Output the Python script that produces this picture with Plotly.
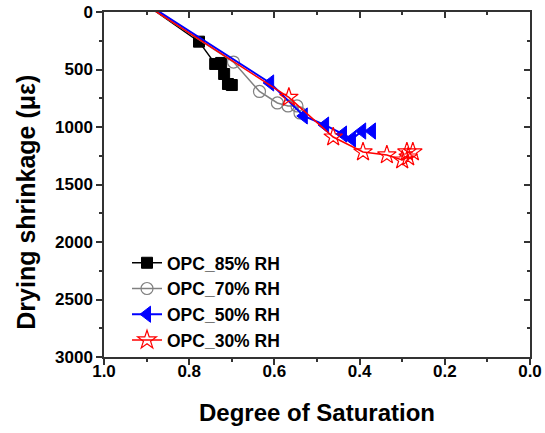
import plotly.graph_objects as go

# Degree of saturation (x) and drying shrinkage in microstrain (y)
sat_85 = [1.00, 0.777, 0.739, 0.725, 0.718, 0.709, 0.700]
shr_85 = [-320, 258, 452, 443, 539, 626, 635]

sat_70 = [1.00, 0.696, 0.635, 0.593, 0.568, 0.547, 0.540]
shr_70 = [-300, 435, 691, 791, 817, 817, 878]

sat_50 = [1.00, 0.610, 0.531, 0.481, 0.439, 0.418, 0.394, 0.371]
shr_50 = [-310, 617, 904, 983, 1061, 1104, 1035, 1035]

sat_30 = [1.00, 0.566, 0.462, 0.392, 0.336, 0.300, 0.286, 0.289, 0.275]
shr_30 = [-296, 742, 1087, 1217, 1243, 1287, 1261, 1217, 1217]

names = ["OPC_85% RH", "OPC_70% RH", "OPC_50% RH", "OPC_30% RH"]

FONT = "Liberation Sans, Arial, sans-serif"

fig = go.Figure()

fig.add_trace(go.Scatter(
    x=sat_85, y=shr_85, mode="lines+markers", name=names[0], legendgroup="a",
    line=dict(color="black", width=1.5),
    marker=dict(symbol="square", size=11, color="black", line=dict(color="black", width=1)),
))
fig.add_trace(go.Scatter(
    x=sat_70, y=shr_70, mode="lines+markers", name=names[1], legendgroup="b",
    line=dict(color="#808080", width=1.5),
    marker=dict(symbol="circle-open", size=12, color="#808080", line=dict(color="#808080", width=1.2)),
))
fig.add_trace(go.Scatter(
    x=sat_50, y=shr_50, mode="lines+markers", name=names[2], legendgroup="c",
    line=dict(color="#0000ff", width=2),
    marker=dict(symbol="triangle-left", size=14, color="#0000ff", line=dict(color="#0000ff", width=1)),
))
fig.add_trace(go.Scatter(
    x=sat_30, y=shr_30, mode="lines+markers", name=names[3], legendgroup="d",
    line=dict(color="#ff0000", width=1.5),
    marker=dict(symbol="star-open", size=14, color="#ff0000", line=dict(color="#ff0000", width=1.2)),
))

axis_common = dict(showline=True, linecolor="#333333", linewidth=1.5, showgrid=False, zeroline=False,
                   tickcolor="#333333", tickwidth=1.5, automargin=False)

fig.update_layout(
    width=545, height=433,
    margin=dict(l=104, r=15, t=12, b=76),
    paper_bgcolor="white", plot_bgcolor="white",
    font=dict(family=FONT, color="black"),
    showlegend=True,
    legend=dict(
        x=0.054, y=0.325, xanchor="left", yanchor="top",
        bgcolor="rgba(0,0,0,0)", traceorder="grouped", tracegroupgap=0,
        font=dict(family=FONT, size=17.5, color="black", weight="bold"),
    ),
    xaxis=dict(
        range=[1.0, 0.0], dtick=0.2, tick0=0, tickformat=".1f", ticks="outside", ticklen=6,
        ticklabelstandoff=-8,
        minor=dict(dtick=0.1, ticks="outside", ticklen=3, tickcolor="#333333", tickwidth=1.5),
        tickfont=dict(family=FONT, size=17, weight="bold"),
        title=dict(text="Degree of Saturation", font=dict(family=FONT, size=24, weight="bold"), standoff=24),
        **axis_common,
    ),
    yaxis=dict(
        range=[3000, 0], dtick=500, tick0=0, ticks="outside", ticklen=6,
        minor=dict(dtick=250, ticks="outside", ticklen=3, tickcolor="#333333", tickwidth=1.5),
        tickfont=dict(family=FONT, size=17, weight="bold"),
        **axis_common,
    ),
    xaxis2=dict(
        overlaying="x", side="top", range=[1.0, 0.0], dtick=0.2, tick0=0, ticks="inside", ticklen=6,
        minor=dict(dtick=0.1, ticks="inside", ticklen=3, tickcolor="#333333", tickwidth=1.5),
        showticklabels=False, **axis_common,
    ),
    yaxis2=dict(
        overlaying="y", side="right", range=[3000, 0], dtick=500, tick0=0, ticks="inside", ticklen=6,
        minor=dict(dtick=250, ticks="inside", ticklen=3, tickcolor="#333333", tickwidth=1.5),
        showticklabels=False, **axis_common,
    ),
    annotations=[dict(
        text="Drying shrinkage (με)", textangle=-90, showarrow=False,
        xref="paper", yref="paper", x=-0.184, y=0.449, xanchor="center", yanchor="middle",
        font=dict(family=FONT, size=25, weight="bold", color="black"),
    )],
)

# dummy invisible trace to activate the mirrored axes
fig.add_trace(go.Scatter(x=[None], y=[None], xaxis="x2", yaxis="y2", showlegend=False, hoverinfo="skip"))

fig.write_html("out.html", config={"displayModeBar": False},
               post_script="document.body.style.margin='0';")
